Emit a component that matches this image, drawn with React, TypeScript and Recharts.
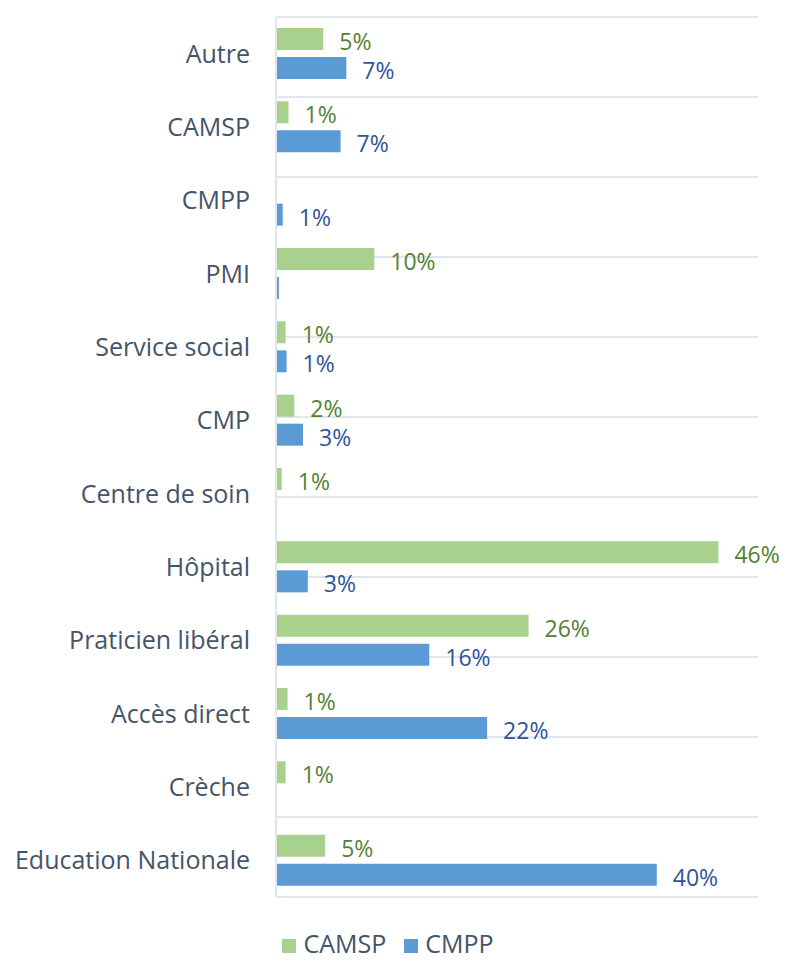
import React from "react";
import {
  BarChart,
  Bar,
  XAxis,
  YAxis,
  CartesianGrid,
  Legend,
  LabelList,
} from "recharts";

// ============================================================================
// Data
// ============================================================================

const categories = [
  "Autre",
  "CAMSP",
  "CMPP",
  "PMI",
  "Service social",
  "CMP",
  "Centre de soin",
  "Hôpital",
  "Praticien libéral",
  "Accès direct",
  "Crèche",
  "Education Nationale",
];

const camspValues = [4.9, 1.3, 0, 10.2, 1.0, 1.9, 0.6, 45.9, 26.2, 1.2, 1.0, 5.1];
const cmppValues = [7.3, 6.7, 0.7, 0.3, 1.1, 2.8, 0, 3.3, 15.9, 21.9, 0, 39.5];

const gridTicks = [0, 1, 2, 3, 4, 5, 6, 7, 8, 9, 10, 11, 12];

const data = categories.map((name, i) => ({
  name,
  CAMSP: camspValues[i] || null,
  CMPP: cmppValues[i] || null,
}));

// ============================================================================
// Theme
// ============================================================================

const colors = {
  camsp: "#A9D18E",
  cmpp: "#5B9BD5",
  camspText: "#548235",
  cmppText: "#2F5597",
  axisText: "#44546A",
  grid: "#E1E5EC",
};

const tickFontSize = 25;
const labelFontSize = 23;

const formatPercent = (v: unknown) => {
  const n = Number(v);
  if (!n || n < 0.5) return "";
  return `${Math.round(n)}%`;
};

// ============================================================================
// Component
// ============================================================================

export default function App() {
  return (
    <div
      style={{
        position: "absolute",
        left: 0,
        top: 0,
        width: 791,
        height: 962,
        background: "#fff",
        fontFamily: "'Open Sans', sans-serif",
      }}
    >
      <BarChart
        width={791}
        height={962}
        data={data}
        layout="vertical"
        margin={{ top: 17, right: 33, bottom: 29, left: 0 }}
        barSize={22}
        barGap={7}
      >
        <CartesianGrid
          yAxisId="grid"
          horizontal
          vertical={false}
          stroke={colors.grid}
          strokeWidth={2}
        />
        <XAxis type="number" domain={[0, 50]} hide />
        <YAxis
          yAxisId="cat"
          type="category"
          dataKey="name"
          width={276}
          axisLine={{ stroke: colors.grid, strokeWidth: 2 }}
          tickLine={false}
          tickSize={0}
          tickMargin={26}
          interval={0}
          tick={{ fill: colors.axisText, fontSize: tickFontSize }}
        />
        <YAxis
          yAxisId="grid"
          type="number"
          domain={[0, 12]}
          ticks={gridTicks}
          hide
        />
        <Legend
          verticalAlign="bottom"
          align="center"
          iconType="square"
          iconSize={14}
          wrapperStyle={{
            bottom: 0,
            height: 36,
            fontSize: tickFontSize,
            lineHeight: "34px",
            paddingLeft: 18,
          }}
          formatter={(value) => (
            <span style={{ color: colors.axisText, marginLeft: 3, marginRight: 8 }}>
              {value}
            </span>
          )}
        />
        <Bar
          yAxisId="cat"
          dataKey="CAMSP"
          fill={colors.camsp}
          isAnimationActive={false}
        >
          <LabelList
            dataKey="CAMSP"
            position="right"
            offset={16}
            dy={3}
            formatter={formatPercent}
            fill={colors.camspText}
            fontSize={labelFontSize}
          />
        </Bar>
        <Bar
          yAxisId="cat"
          dataKey="CMPP"
          fill={colors.cmpp}
          isAnimationActive={false}
        >
          <LabelList
            dataKey="CMPP"
            position="right"
            offset={16}
            dy={3}
            formatter={formatPercent}
            fill={colors.cmppText}
            fontSize={labelFontSize}
          />
        </Bar>
      </BarChart>
    </div>
  );
}
